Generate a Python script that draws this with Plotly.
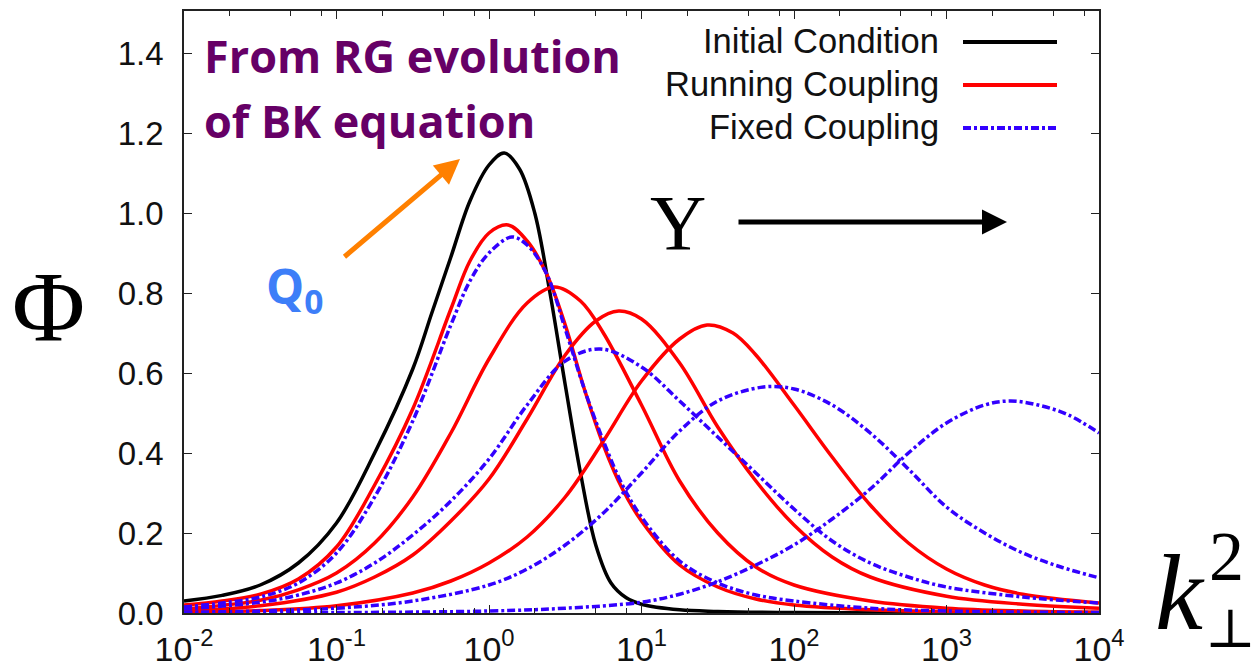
import plotly.graph_objects as go

# ---------------- data (log10 k^2, Phi) ----------------
init_logk = [-2.0, -1.75, -1.5, -1.25, -1.0, -0.75, -0.5, -0.375, -0.25, -0.125, 0.0, 0.1, 0.2, 0.3, 0.4, 0.5, 0.6, 0.7, 0.8, 0.9, 1.0, 1.25, 1.5, 2.0, 3.0, 4.0]
init_phi = [0.03, 0.044, 0.07, 0.125, 0.225, 0.40, 0.61, 0.75, 0.89, 1.03, 1.12, 1.15, 1.11, 1.00, 0.80, 0.57, 0.35, 0.17, 0.075, 0.038, 0.022, 0.008, 0.004, 0.001, 0.0, 0.0]

rc1_logk = [-2.0, -1.75, -1.5, -1.25, -1.0, -0.75, -0.5, -0.25, -0.125, 0.0, 0.125, 0.25, 0.375, 0.5, 0.625, 0.75, 0.875, 1.0, 1.25, 1.5, 1.75, 2.0, 2.5, 3.0, 4.0]
rc1_phi = [0.02, 0.03, 0.047, 0.085, 0.165, 0.32, 0.51, 0.76, 0.88, 0.95, 0.97, 0.93, 0.85, 0.72, 0.56, 0.42, 0.31, 0.23, 0.12, 0.065, 0.035, 0.02, 0.008, 0.003, 0.001]

rc2_logk = [-2.0, -1.5, -1.25, -1.0, -0.75, -0.5, -0.25, 0.0, 0.25, 0.43, 0.6, 0.75, 1.0, 1.25, 1.5, 1.75, 2.0, 2.5, 3.0, 3.5, 4.0]
rc2_phi = [0.01, 0.032, 0.058, 0.1, 0.175, 0.29, 0.45, 0.635, 0.775, 0.815, 0.78, 0.70, 0.52, 0.33, 0.20, 0.115, 0.07, 0.03, 0.012, 0.005, 0.002]

rc3_logk = [-2.0, -1.5, -1.0, -0.75, -0.5, -0.25, 0.0, 0.25, 0.5, 0.7, 0.85, 1.0, 1.25, 1.5, 1.75, 2.0, 2.25, 2.5, 3.0, 3.5, 4.0]
rc3_phi = [0.005, 0.018, 0.052, 0.09, 0.145, 0.23, 0.335, 0.485, 0.645, 0.73, 0.755, 0.735, 0.625, 0.465, 0.33, 0.22, 0.14, 0.09, 0.042, 0.022, 0.012]

rc4_logk = [-2.0, -1.5, -1.0, -0.5, -0.25, 0.0, 0.25, 0.5, 0.75, 1.0, 1.25, 1.43, 1.6, 1.75, 2.0, 2.25, 2.5, 2.75, 3.0, 3.25, 3.5, 4.0]
rc4_phi = [0.002, 0.006, 0.018, 0.05, 0.08, 0.125, 0.19, 0.29, 0.43, 0.58, 0.685, 0.72, 0.70, 0.645, 0.52, 0.39, 0.27, 0.175, 0.11, 0.07, 0.047, 0.025]

fc1_logk = [-2.0, -1.75, -1.5, -1.25, -1.0, -0.75, -0.5, -0.25, -0.125, 0.0, 0.15, 0.25, 0.375, 0.5, 0.625, 0.75, 0.875, 1.0, 1.25, 1.5, 1.75, 2.0, 2.5, 3.0, 4.0]
fc1_phi = [0.015, 0.025, 0.04, 0.075, 0.15, 0.29, 0.48, 0.72, 0.83, 0.90, 0.94, 0.92, 0.85, 0.71, 0.56, 0.43, 0.32, 0.24, 0.13, 0.075, 0.045, 0.03, 0.012, 0.005, 0.001]

fc2_logk = [-2.0, -1.5, -1.25, -1.0, -0.75, -0.5, -0.25, 0.0, 0.25, 0.5, 0.73, 1.0, 1.25, 1.5, 1.75, 2.0, 2.25, 2.5, 2.75, 3.0, 3.5, 4.0]
fc2_phi = [0.01, 0.027, 0.045, 0.075, 0.125, 0.195, 0.28, 0.385, 0.52, 0.63, 0.66, 0.615, 0.53, 0.44, 0.35, 0.26, 0.18, 0.125, 0.09, 0.065, 0.04, 0.025]

fc3_logk = [-2.0, -1.5, -1.0, -0.5, 0.0, 0.25, 0.5, 0.75, 1.0, 1.25, 1.5, 1.8, 2.0, 2.25, 2.5, 2.75, 3.0, 3.25, 3.5, 3.75, 4.0]
fc3_phi = [0.002, 0.005, 0.012, 0.03, 0.07, 0.11, 0.17, 0.25, 0.35, 0.455, 0.53, 0.565, 0.56, 0.52, 0.45, 0.36, 0.265, 0.2, 0.15, 0.115, 0.088]

fc4_logk = [-2.0, -1.0, 0.0, 0.5, 1.0, 1.25, 1.5, 1.75, 2.0, 2.25, 2.5, 2.75, 3.0, 3.25, 3.42, 3.6, 3.8, 4.0]
fc4_phi = [0.0, 0.001, 0.005, 0.012, 0.027, 0.047, 0.078, 0.12, 0.17, 0.235, 0.31, 0.40, 0.475, 0.52, 0.53, 0.52, 0.495, 0.45]

x_tickvals = [0.01, 0.1, 1, 10, 100, 1000, 10000]
x_ticktext = ["10<sup>-2</sup>", "10<sup>-1</sup>", "10<sup>0</sup>", "10<sup>1</sup>",
              "10<sup>2</sup>", "10<sup>3</sup>", "10<sup>4</sup>"]
y_tickvals = [0.0, 0.2, 0.4, 0.6, 0.8, 1.0, 1.2, 1.4]
y_ticktext = ["0.0", "0.2", "0.4", "0.6", "0.8", "1.0", "1.2", "1.4"]
legend_labels = ["Initial Condition", "Running Coupling", "Fixed Coupling"]

# ---------------- styles ----------------
BLACK = "#000000"
RED = "#ff0000"
BLUE = "#3300ff"
BLUE_DASH = "8px,3px,3px,3px"
LW = 3.5
SMOOTH = 1.0

W, H = 1256, 667
L, R, T, B = 184, 157, 11, 54
PW, PH = W - L - R, H - T - B


def px(x):
    return (x - L) / PW


def py(y):
    return (H - B - y) / PH


def tolin(logs):
    return [10 ** v for v in logs]


fig = go.Figure()
fig.add_trace(go.Scatter(x=tolin(init_logk), y=init_phi, mode="lines",
                         line=dict(color=BLACK, width=LW, shape="spline", smoothing=SMOOTH)))
for lk, ph in [(rc1_logk, rc1_phi), (rc2_logk, rc2_phi), (rc3_logk, rc3_phi), (rc4_logk, rc4_phi)]:
    fig.add_trace(go.Scatter(x=tolin(lk), y=ph, mode="lines",
                             line=dict(color=RED, width=LW, shape="spline", smoothing=SMOOTH)))
for lk, ph in [(fc1_logk, fc1_phi), (fc2_logk, fc2_phi), (fc3_logk, fc3_phi), (fc4_logk, fc4_phi)]:
    fig.add_trace(go.Scatter(x=tolin(lk), y=ph, mode="lines",
                             line=dict(color=BLUE, width=LW, dash=BLUE_DASH, shape="spline", smoothing=SMOOTH)))

minor_vals = []
for d in [0.01, 0.1, 1, 10, 100, 1000]:
    minor_vals += [2 * d, 5 * d, 8 * d]

fig.update_xaxes(type="log", range=[-2, 4], tickvals=x_tickvals, ticktext=x_ticktext,
                 showline=True, linecolor="#222", linewidth=1.5, mirror="allticks",
                 ticks="inside", ticklen=8, tickwidth=1.2, tickcolor="#222",
                 minor=dict(tickvals=minor_vals, ticks="inside", ticklen=5, tickwidth=1.2, tickcolor="#222"),
                 showgrid=False, zeroline=False, ticklabelstandoff=5,
                 tickfont=dict(family="Liberation Sans", size=34, color="#111"))
fig.update_yaxes(range=[0, 1.505], tickvals=y_tickvals, ticktext=y_ticktext,
                 showline=True, linecolor="#222", linewidth=1.5, mirror="allticks",
                 ticks="inside", ticklen=8, tickwidth=1.2, tickcolor="#222",
                 showgrid=False, zeroline=False, ticklabelstandoff=12,
                 tickfont=dict(family="Liberation Sans", size=33, color="#111"))

annotations = []
shapes = []

# legend (text left, sample right)
leg_rows_y = [42, 85, 128]
leg_styles = [dict(color=BLACK, width=4), dict(color=RED, width=4), dict(color=BLUE, width=4, dash=BLUE_DASH)]
for lab, yy, st in zip(legend_labels, leg_rows_y, leg_styles):
    annotations.append(dict(x=px(941), y=py(yy - 1), xref="paper", yref="paper", text=lab,
                            showarrow=False, xanchor="right", yanchor="middle",
                            font=dict(family="Liberation Sans", size=34.5, color="#111")))
    shapes.append(dict(type="line", xref="paper", yref="paper", x0=px(963), x1=px(1057),
                       y0=py(yy), y1=py(yy), line=st))

PURPLE = "#660066"
annotations.append(dict(x=px(202), y=py(56), xref="paper", yref="paper", text="<b>From RG evolution</b>",
                        showarrow=False, xanchor="left", yanchor="middle",
                        font=dict(family="Open Sans", size=45, color=PURPLE)))
annotations.append(dict(x=px(202), y=py(121), xref="paper", yref="paper", text="<b>of BK equation</b>",
                        showarrow=False, xanchor="left", yanchor="middle",
                        font=dict(family="Open Sans", size=45, color=PURPLE)))

# orange arrow (offsets in pixels)
annotations.append(dict(x=px(460), y=py(159), ax=343 - 460, ay=258 - 159, xref="paper", yref="paper",
                        text="", showarrow=True, arrowhead=2,
                        arrowsize=1.0, arrowwidth=5, arrowcolor="#ff8000"))
# Q0
QCOL = "#3d7ef8"
annotations.append(dict(x=px(294), y=py(288), xref="paper", yref="paper", text="<b>Q<sub>0</sub></b>",
                        showarrow=False, xanchor="center", yanchor="middle",
                        font=dict(family="Open Sans", size=48, color=QCOL)))

# Y arrow
annotations.append(dict(x=px(678), y=py(222), xref="paper", yref="paper", text="Y",
                        showarrow=False, xanchor="center", yanchor="middle",
                        font=dict(family="Liberation Serif", size=78, color="#000")))
annotations.append(dict(x=px(1007), y=py(222), ax=737 - 1007, ay=0, xref="paper", yref="paper",
                        text="", showarrow=True, arrowhead=2,
                        arrowsize=1.0, arrowwidth=5, arrowcolor="#000"))

# Phi label
annotations.append(dict(x=px(48), y=py(306), xref="paper", yref="paper", text="Φ",
                        showarrow=False, xanchor="center", yanchor="middle",
                        font=dict(family="Liberation Serif", size=100, color="#000")))

# k_perp^2 label
annotations.append(dict(x=px(1180), y=py(592), xref="paper", yref="paper", text="<i>k</i>",
                        showarrow=False, xanchor="center", yanchor="middle",
                        font=dict(family="Liberation Serif", size=108, color="#000")))
annotations.append(dict(x=px(1226), y=py(556), xref="paper", yref="paper", text="2",
                        showarrow=False, xanchor="center", yanchor="middle",
                        font=dict(family="Liberation Serif", size=70, color="#000")))
annotations.append(dict(x=px(1230), y=py(628), xref="paper", yref="paper", text="⊥",
                        showarrow=False, xanchor="center", yanchor="middle",
                        font=dict(family="DejaVu Serif", size=54, color="#000")))

fig.update_layout(width=W, height=H, margin=dict(l=L, r=R, t=T, b=B, autoexpand=False),
                  paper_bgcolor="white", plot_bgcolor="white", showlegend=False,
                  annotations=annotations, shapes=shapes)

fig.write_html("out.html")
